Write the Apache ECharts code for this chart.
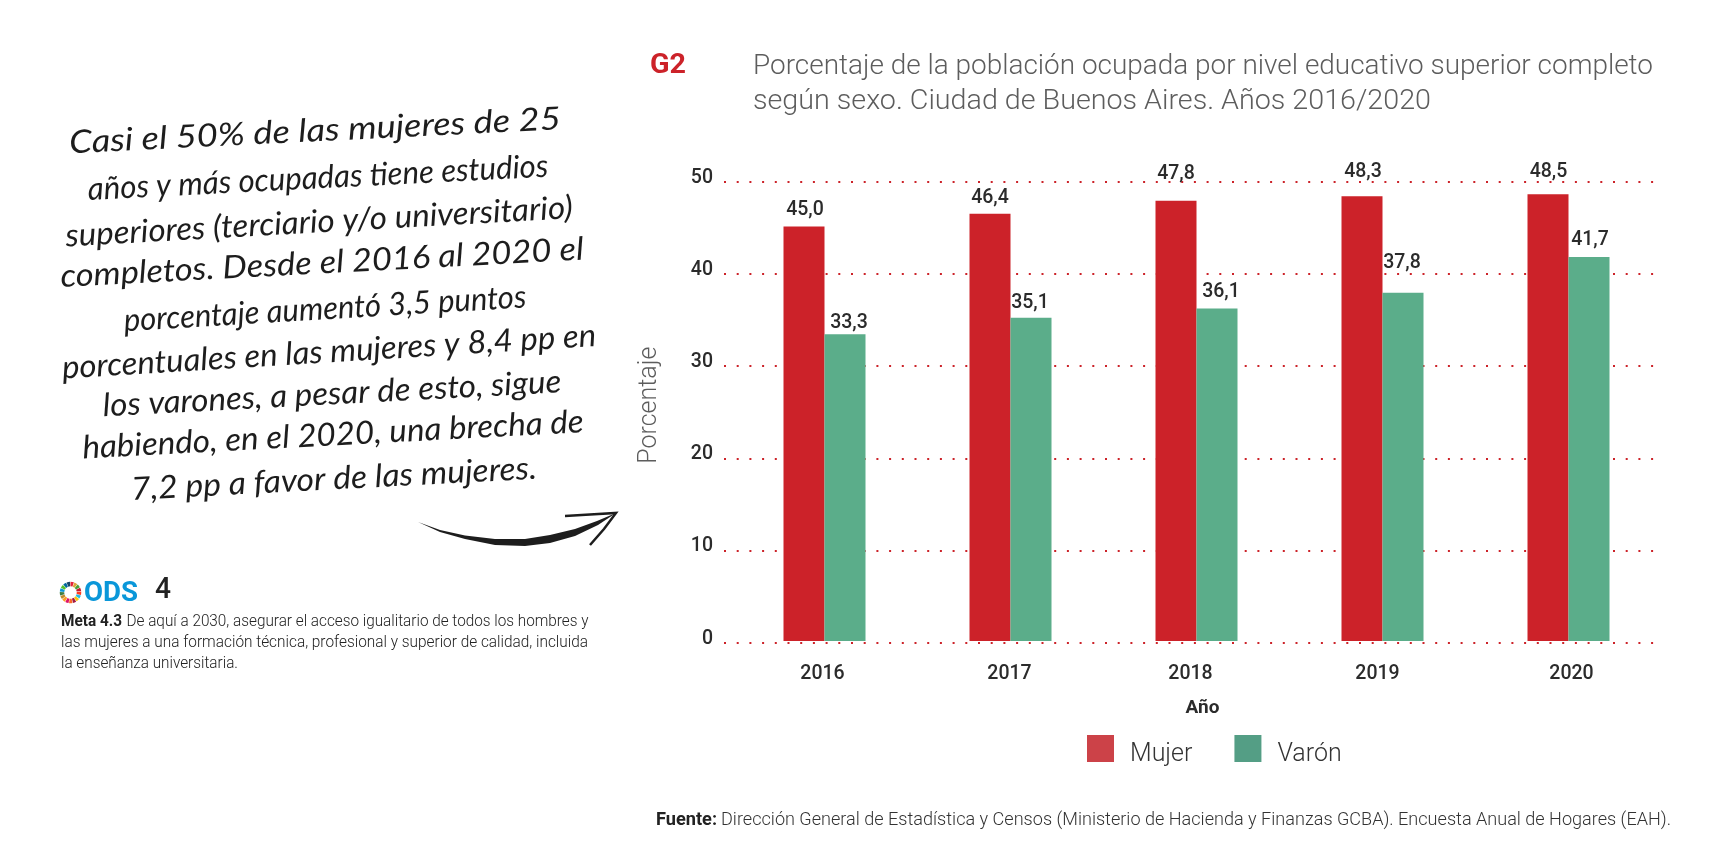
<!DOCTYPE html>
<html>
<head>
<meta charset="utf-8">
<script src="https://cdn.jsdelivr.net/npm/echarts@6/dist/echarts.min.js"></script>
<style>html,body{margin:0;padding:0;background:#fff}#c{width:1709px;height:865px}</style>
</head>
<body>
<div id="c"></div>
<script>
const years = ['2016','2017','2018','2019','2020'];
const mujer = [45.0,46.4,47.8,48.3,48.5];
const varon = [33.3,35.1,36.1,37.8,41.7];
const yTicks = [0,10,20,30,40,50];
const titleLines = ['Porcentaje de la población ocupada por nivel educativo superior completo','según sexo. Ciudad de Buenos Aires. Años 2016/2020'];
const handLines = ['Casi el 50% de las mujeres de 25','años y más ocupadas tiene estudios','superiores (terciario y/o universitario)','completos. Desde el 2016 al 2020 el','porcentaje aumentó 3,5 puntos','porcentuales en las mujeres y 8,4 pp en','los varones, a pesar de esto, sigue','habiendo, en el 2020, una brecha de','7,2 pp a favor de las mujeres.'];
const metaLines = ['De aquí a 2030, asegurar el acceso igualitario de todos los hombres y','las mujeres a una formación técnica, profesional y superior de calidad, incluida','la enseñanza universitaria.'];
const fuente = 'Dirección General de Estadística y Censos (Ministerio de Hacienda y Finanzas GCBA). Encuesta Anual de Hogares (EAH).';

// layout only: label nudges as drawn in the reference
const liftM = [6.8,5.3,17,14.2,12.2], nudgeM = [1,0,0,1,0.5];
const liftV = [1.2,4.2,6.8,20.2,7.3], nudgeV = [4,-1,4,-1,1];
const tickPadLeft = [0,0,0,0,6], tickPadRight = [4,2,12,10,0];
const handLayout = [[315,131,492,2.8],[318,178,461,2.9],[319,222,508,3.2],[322,263,524,3.0],[325,309,403,3.4],[329,352,535,3.5],[332,394,459,3.0],[333,435,502,3.0],[334,479,406,3.0]];
const sdg = ['#e5243b','#dda63a','#4c9f38','#c5192d','#ff3a21','#26bde2','#fcc30b','#a21942','#fd6925','#dd1367','#fd9d24','#bf8b2e','#3f7e44','#0a97d9','#56c02b','#00689d','#19486a'];

const SANS = 'Roboto, sans-serif';
const ctx = document.createElement('canvas').getContext('2d');
function fitText(text, font, x, y, w, fill, opts) {
  opts = opts || {};
  ctx.font = font;
  const sx = w / ctx.measureText(text).width;
  return {type:'text', x, y, scaleX:sx, rotation:opts.rot||0, z:10,
    style:{text, font, fill, align:opts.align||'left', verticalAlign:'middle'}};
}
const fmt = v => v.toFixed(1).replace('.',',');
function barData(vals, lift, nudge){
  return vals.map((v,i)=>({value:v,label:{distance:lift[i],offset:[nudge[i],0]}}));
}

const graphic = [];
graphic.push(fitText('G2','bold 28px '+SANS,650,66,36,'#cc2229'));
titleLines.forEach((t,i)=>graphic.push(fitText(t,'300 28px '+SANS,753,66.5+35.5*i,i?678:900,'#5d5d5d')));
graphic.push(fitText('Fuente:','bold 18px '+SANS,656,820,61,'#222'));
graphic.push(fitText(fuente,'300 18px '+SANS,721,820,950,'#333'));
handLines.forEach((t,i)=>{
  const h=handLayout[i];
  graphic.push(fitText(t,'italic 32px Lato, sans-serif',h[0],h[1],h[2],'#1d1d1d',{align:'center',rot:h[3]*Math.PI/180}));
});
// arrow
graphic.push({type:'polygon',z:10,shape:{points:[[418,522],[440,530],[465,535.5],[495,539],[525,539],[550,535],[575,529],[597,521],[616,513],[598,525],[575,536],[550,543],[525,546],[495,545],[465,539],[440,532]]},style:{fill:'#1d1d1d'}});
graphic.push({type:'polyline',z:10,shape:{points:[[565,516],[590,514.5],[616,513],[604,529],[590,545]]},style:{fill:'none',stroke:'#1d1d1d',lineWidth:2.5}});
// ODS mark
sdg.forEach((c,i)=>{
  const a=-Math.PI/2+i*2*Math.PI/17;
  graphic.push({type:'arc',z:10,shape:{cx:70.5,cy:592.5,r:8.5,startAngle:a,endAngle:a+2*Math.PI/17-0.05},style:{fill:'none',stroke:c,lineWidth:4.5}});
});
graphic.push(fitText('ODS','bold 28px '+SANS,84,593.5,54,'#0a97d9'));
graphic.push(fitText('4','500 30px '+SANS,155,590,16,'#222'));
graphic.push(fitText('Meta 4.3','bold 17px '+SANS,61,621.5,61,'#222'));
graphic.push(fitText(metaLines[0],'300 17px '+SANS,126.5,621.5,462,'#222'));
graphic.push(fitText(metaLines[1],'300 17px '+SANS,61,642.5,527,'#222'));
graphic.push(fitText(metaLines[2],'300 17px '+SANS,61,664,177,'#222'));

const tickRich = {};
years.forEach((y,i)=>{ tickRich['t'+i] = {fontSize:19.5,fontWeight:500,color:'#2b2b2b',padding:[0,tickPadRight[i],0,tickPadLeft[i]]}; });

const chart = echarts.init(document.getElementById('c'),null,{renderer:'canvas'});
chart.setOption({
  animation:false,
  backgroundColor:'#fff',
  textStyle:{fontFamily:SANS},
  graphic,
  grid:[
    {left:724,width:930,top:181.7,bottom:222.3},
    {left:731.5,width:930,top:180.5,height:460.5}
  ],
  xAxis:[
    {gridIndex:0,type:'category',data:years,show:false},
    {gridIndex:1,type:'category',data:years,
      axisLine:{show:false},axisTick:{show:false},
      axisLabel:{margin:23,rich:tickRich,formatter:(v,i)=>'{t'+i+'|'+v+'}'},
      name:'Año',nameLocation:'middle',nameGap:58,
      nameTextStyle:{fontSize:19,fontWeight:'bold',color:'#2b2b2b',padding:[0,0,0,12]}}
  ],
  yAxis:[
    {gridIndex:0,type:'value',min:0,max:50,interval:10,
      axisLine:{show:false},axisTick:{show:false},
      splitLine:{lineStyle:{color:'#cc2229',width:2,type:[2,10.7],cap:'butt'}},
      axisLabel:{margin:11,fontSize:19.5,fontWeight:500,color:'#2b2b2b',verticalAlign:'bottom',lineHeight:8,
        formatter:v=>yTicks.includes(v)?String(v):''},
      name:'Porcentaje',nameLocation:'middle',nameGap:62,nameRotate:90,
      nameTextStyle:{fontSize:25,fontWeight:300,color:'#5d5d5d',padding:[0,0,0,14]}},
    {gridIndex:1,type:'value',min:0,max:50,show:false,splitLine:{show:false}}
  ],
  legend:{left:1087,top:735,padding:0,itemWidth:27,itemHeight:27,itemGap:42,icon:'rect',
    selectedMode:false,
    formatter:'{a|{name}}',
    textStyle:{padding:[0,0,0,11],rich:{a:{fontSize:25,fontWeight:300,color:'#333',padding:[12,0,0,0]}}},
    data:[{name:'Mujer',itemStyle:{color:'#cc4248'}},{name:'Varón',itemStyle:{color:'#549e85'}}]},
  series:[
    {name:'Mujer',type:'bar',xAxisIndex:1,yAxisIndex:1,barWidth:41,barGap:0,
      itemStyle:{color:'#cc2229'},
      label:{show:true,position:'top',fontSize:19.5,fontWeight:500,color:'#2b2b2b',formatter:p=>fmt(p.value)},
      data:barData(mujer,liftM,nudgeM)},
    {name:'Varón',type:'bar',xAxisIndex:1,yAxisIndex:1,barWidth:41,barGap:0,
      itemStyle:{color:'#5bad8a'},
      label:{show:true,position:'top',fontSize:19.5,fontWeight:500,color:'#2b2b2b',formatter:p=>fmt(p.value)},
      data:barData(varon,liftV,nudgeV)}
  ]
});
</script>
</body>
</html>
